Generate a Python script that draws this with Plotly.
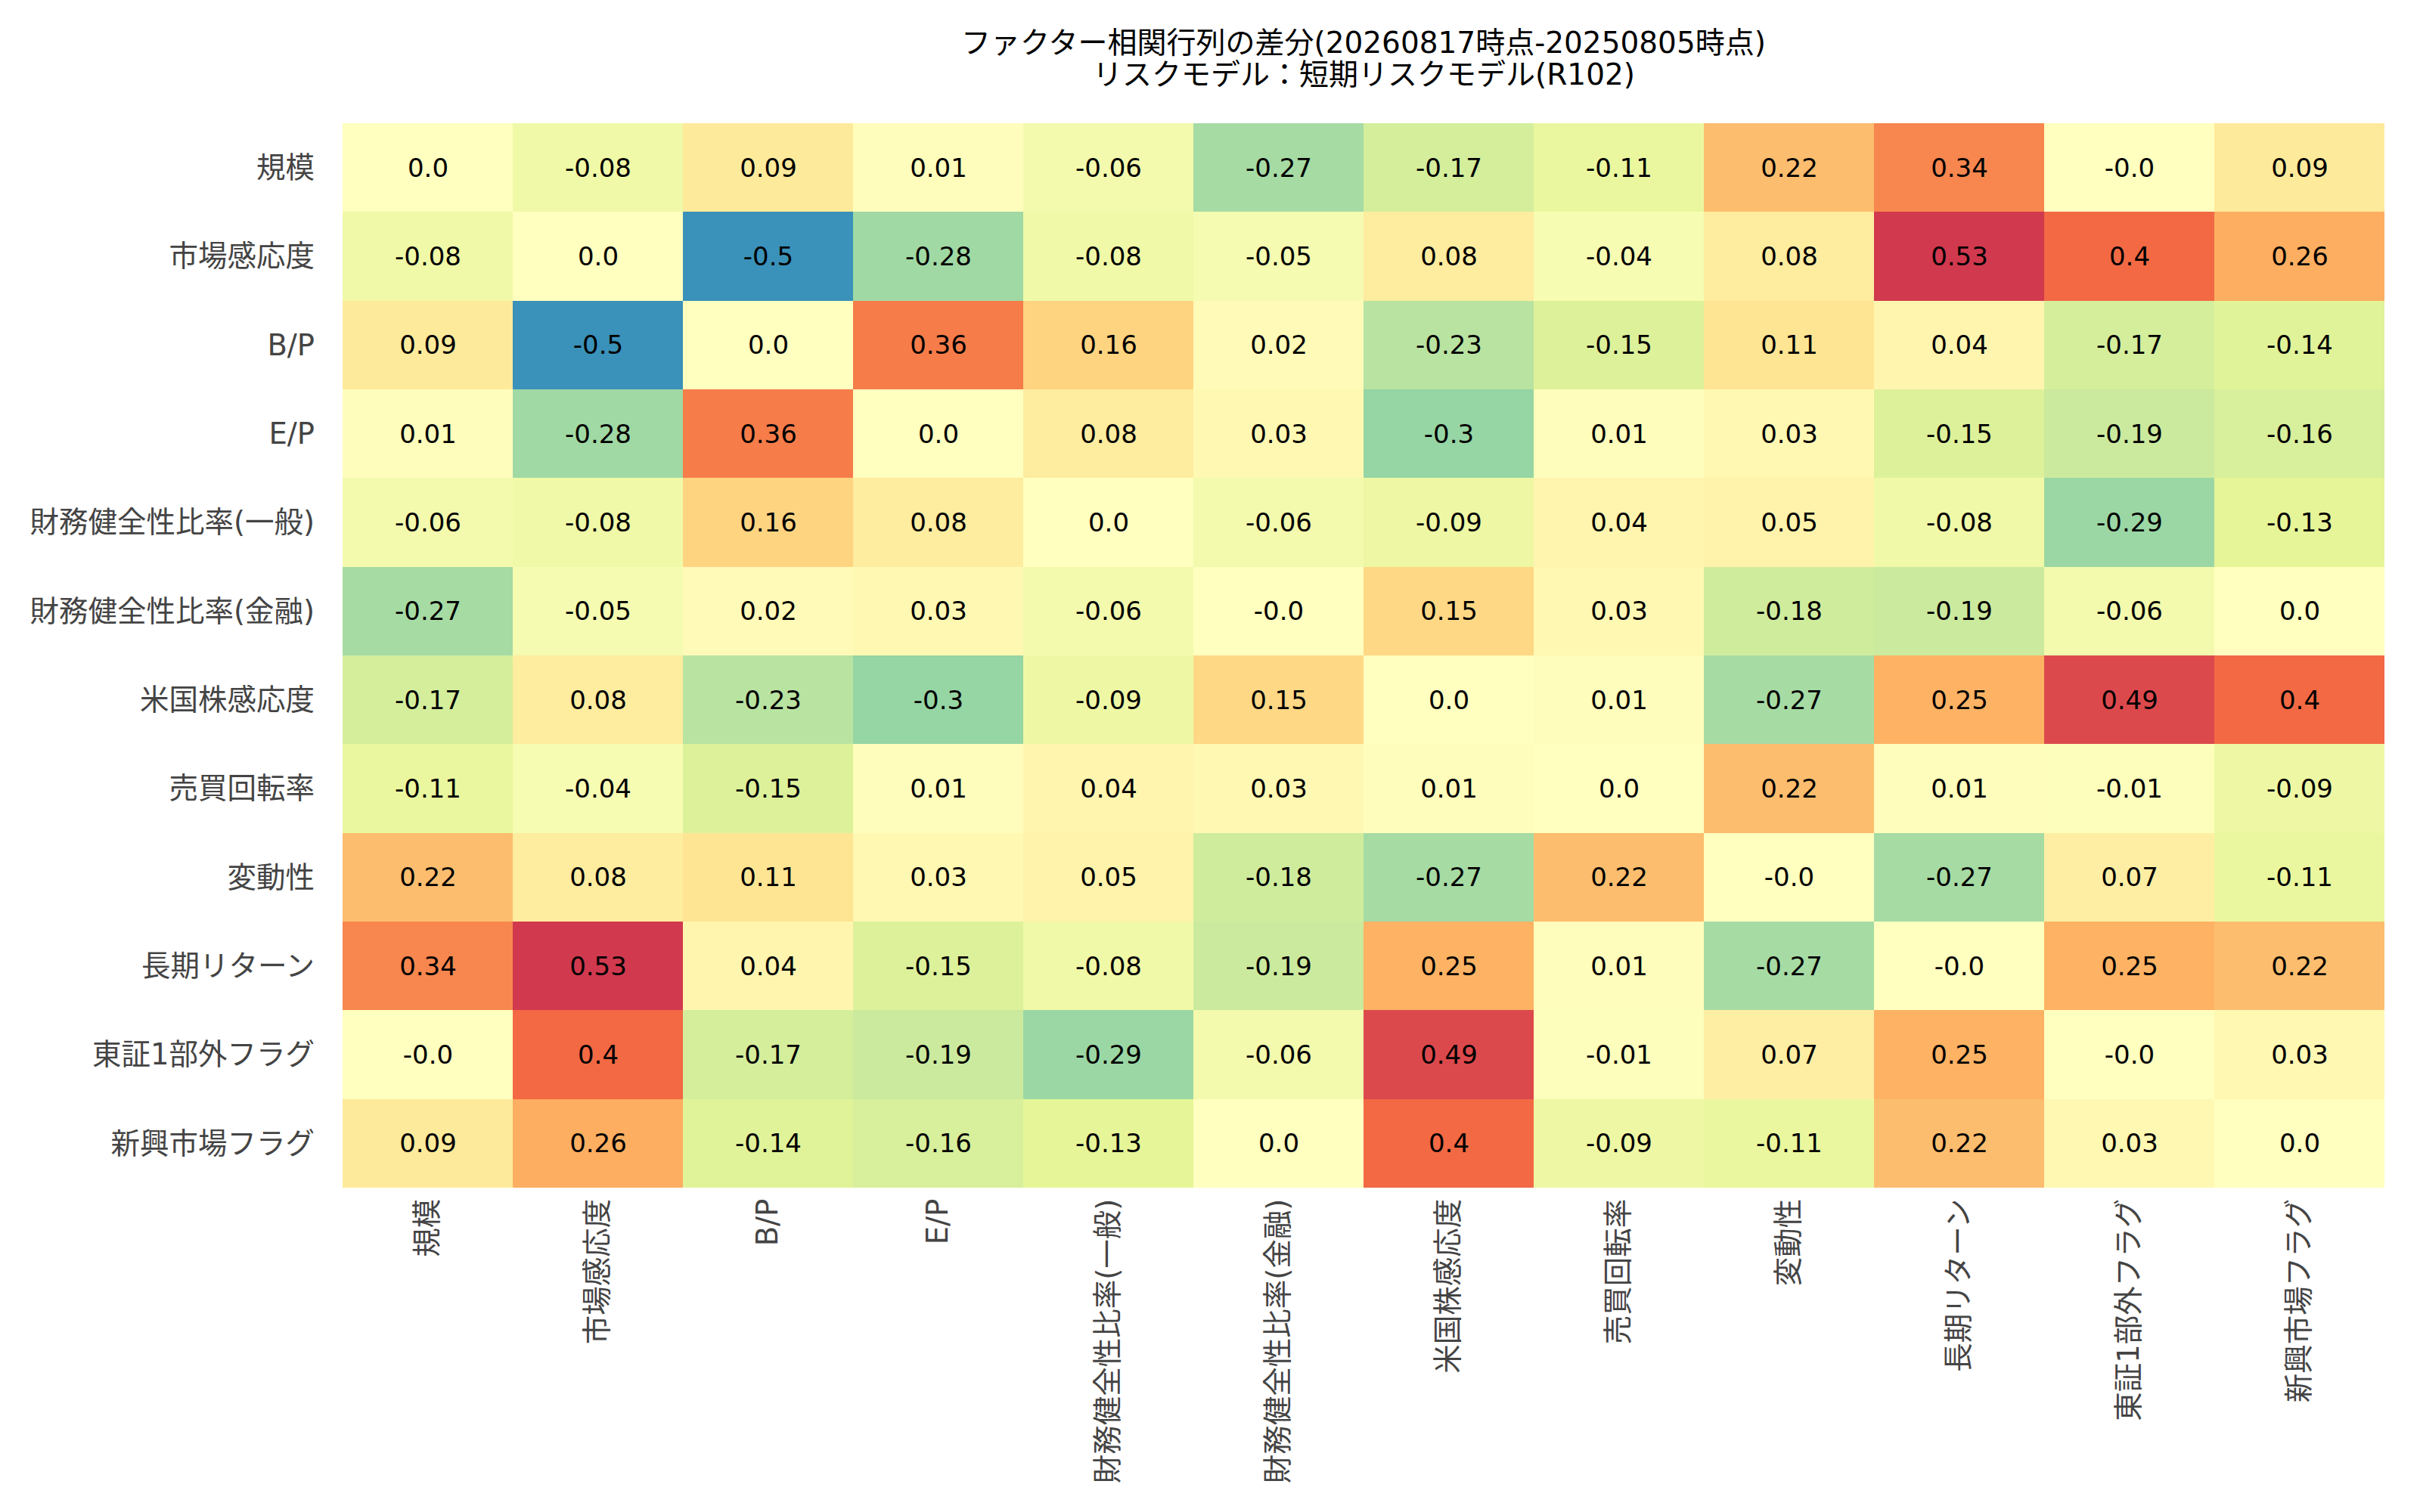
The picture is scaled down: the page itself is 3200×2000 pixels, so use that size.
import plotly.graph_objects as go

# factor names (same order on both axes)
factors = [
    "規模", "市場感応度", "B/P", "E/P", "財務健全性比率(一般)", "財務健全性比率(金融)",
    "米国株感応度", "売買回転率", "変動性", "長期リターン", "東証1部外フラグ", "新興市場フラグ",
]

# difference of correlation matrix, one row per factor
row_size = [0.0, -0.08, 0.09, 0.01, -0.06, -0.27, -0.17, -0.11, 0.22, 0.34, -0.0, 0.09]
row_beta = [-0.08, 0.0, -0.5, -0.28, -0.08, -0.05, 0.08, -0.04, 0.08, 0.53, 0.4, 0.26]
row_bp = [0.09, -0.5, 0.0, 0.36, 0.16, 0.02, -0.23, -0.15, 0.11, 0.04, -0.17, -0.14]
row_ep = [0.01, -0.28, 0.36, 0.0, 0.08, 0.03, -0.3, 0.01, 0.03, -0.15, -0.19, -0.16]
row_fin_gen = [-0.06, -0.08, 0.16, 0.08, 0.0, -0.06, -0.09, 0.04, 0.05, -0.08, -0.29, -0.13]
row_fin_bank = [-0.27, -0.05, 0.02, 0.03, -0.06, -0.0, 0.15, 0.03, -0.18, -0.19, -0.06, 0.0]
row_us = [-0.17, 0.08, -0.23, -0.3, -0.09, 0.15, 0.0, 0.01, -0.27, 0.25, 0.49, 0.4]
row_turnover = [-0.11, -0.04, -0.15, 0.01, 0.04, 0.03, 0.01, 0.0, 0.22, 0.01, -0.01, -0.09]
row_vol = [0.22, 0.08, 0.11, 0.03, 0.05, -0.18, -0.27, 0.22, -0.0, -0.27, 0.07, -0.11]
row_ltr = [0.34, 0.53, 0.04, -0.15, -0.08, -0.19, 0.25, 0.01, -0.27, -0.0, 0.25, 0.22]
row_non1 = [-0.0, 0.4, -0.17, -0.19, -0.29, -0.06, 0.49, -0.01, 0.07, 0.25, -0.0, 0.03]
row_emerg = [0.09, 0.26, -0.14, -0.16, -0.13, 0.0, 0.4, -0.09, -0.11, 0.22, 0.03, 0.0]

z = [row_size, row_beta, row_bp, row_ep, row_fin_gen, row_fin_bank,
     row_us, row_turnover, row_vol, row_ltr, row_non1, row_emerg]
text = [[str(v) for v in row] for row in z]

title_line1 = "ファクター相関行列の差分(20260817時点-20250805時点)"
title_line2 = "リスクモデル：短期リスクモデル(R102)"

# Spectral_r
spectral = ["#5e4fa2", "#3288bd", "#66c2a5", "#abdda4", "#e6f598", "#ffffbf",
            "#fee08b", "#fdae61", "#f46d43", "#d53e4f", "#9e0142"]
colorscale = [[i / (len(spectral) - 1), c] for i, c in enumerate(spectral)]

FONT = "DejaVu Sans, Noto Sans CJK JP, sans-serif"
W, H = 3200, 2000
L, R, T, B = 445, 55, 155, 437


def paper_y(px):
    # pixel row from top -> paper coordinate
    return (H - B - px) / (H - T - B)


fig = go.Figure(go.Heatmap(
    z=z,
    x=factors,
    y=factors,
    text=text,
    texttemplate="%{text}",
    textfont=dict(family=FONT, size=34, color="black"),
    colorscale=colorscale,
    zmin=-0.65,
    zmax=0.65,
    showscale=False,
    hovertemplate="%{y} / %{x}: %{z}<extra></extra>",
))

fig.update_layout(
    width=W,
    height=H,
    margin=dict(l=L, r=R, t=T, b=B),
    paper_bgcolor="white",
    plot_bgcolor="white",
    font=dict(family=FONT, size=38, color="#444"),
)
# two-line title, centred over the heatmap
for txt, py in [(title_line1, 48), (title_line2, 90)]:
    fig.add_annotation(
        text=txt, xref="paper", yref="paper",
        x=0.5, y=paper_y(py),
        xanchor="center", yanchor="middle",
        showarrow=False,
        font=dict(family=FONT, size=39, color="black"),
    )

fig.update_xaxes(
    tickangle=-90,
    showgrid=False,
    zeroline=False,
    showline=False,
    ticks="",
    ticklabelstandoff=6,
    tickfont=dict(size=38.5, color="#444"),
    automargin=False,
)
fig.update_yaxes(
    autorange="reversed",
    showgrid=False,
    zeroline=False,
    showline=False,
    ticks="",
    ticklabelstandoff=36,
    tickfont=dict(size=38.5, color="#444"),
    automargin=False,
)

fig.write_html("out.html")
